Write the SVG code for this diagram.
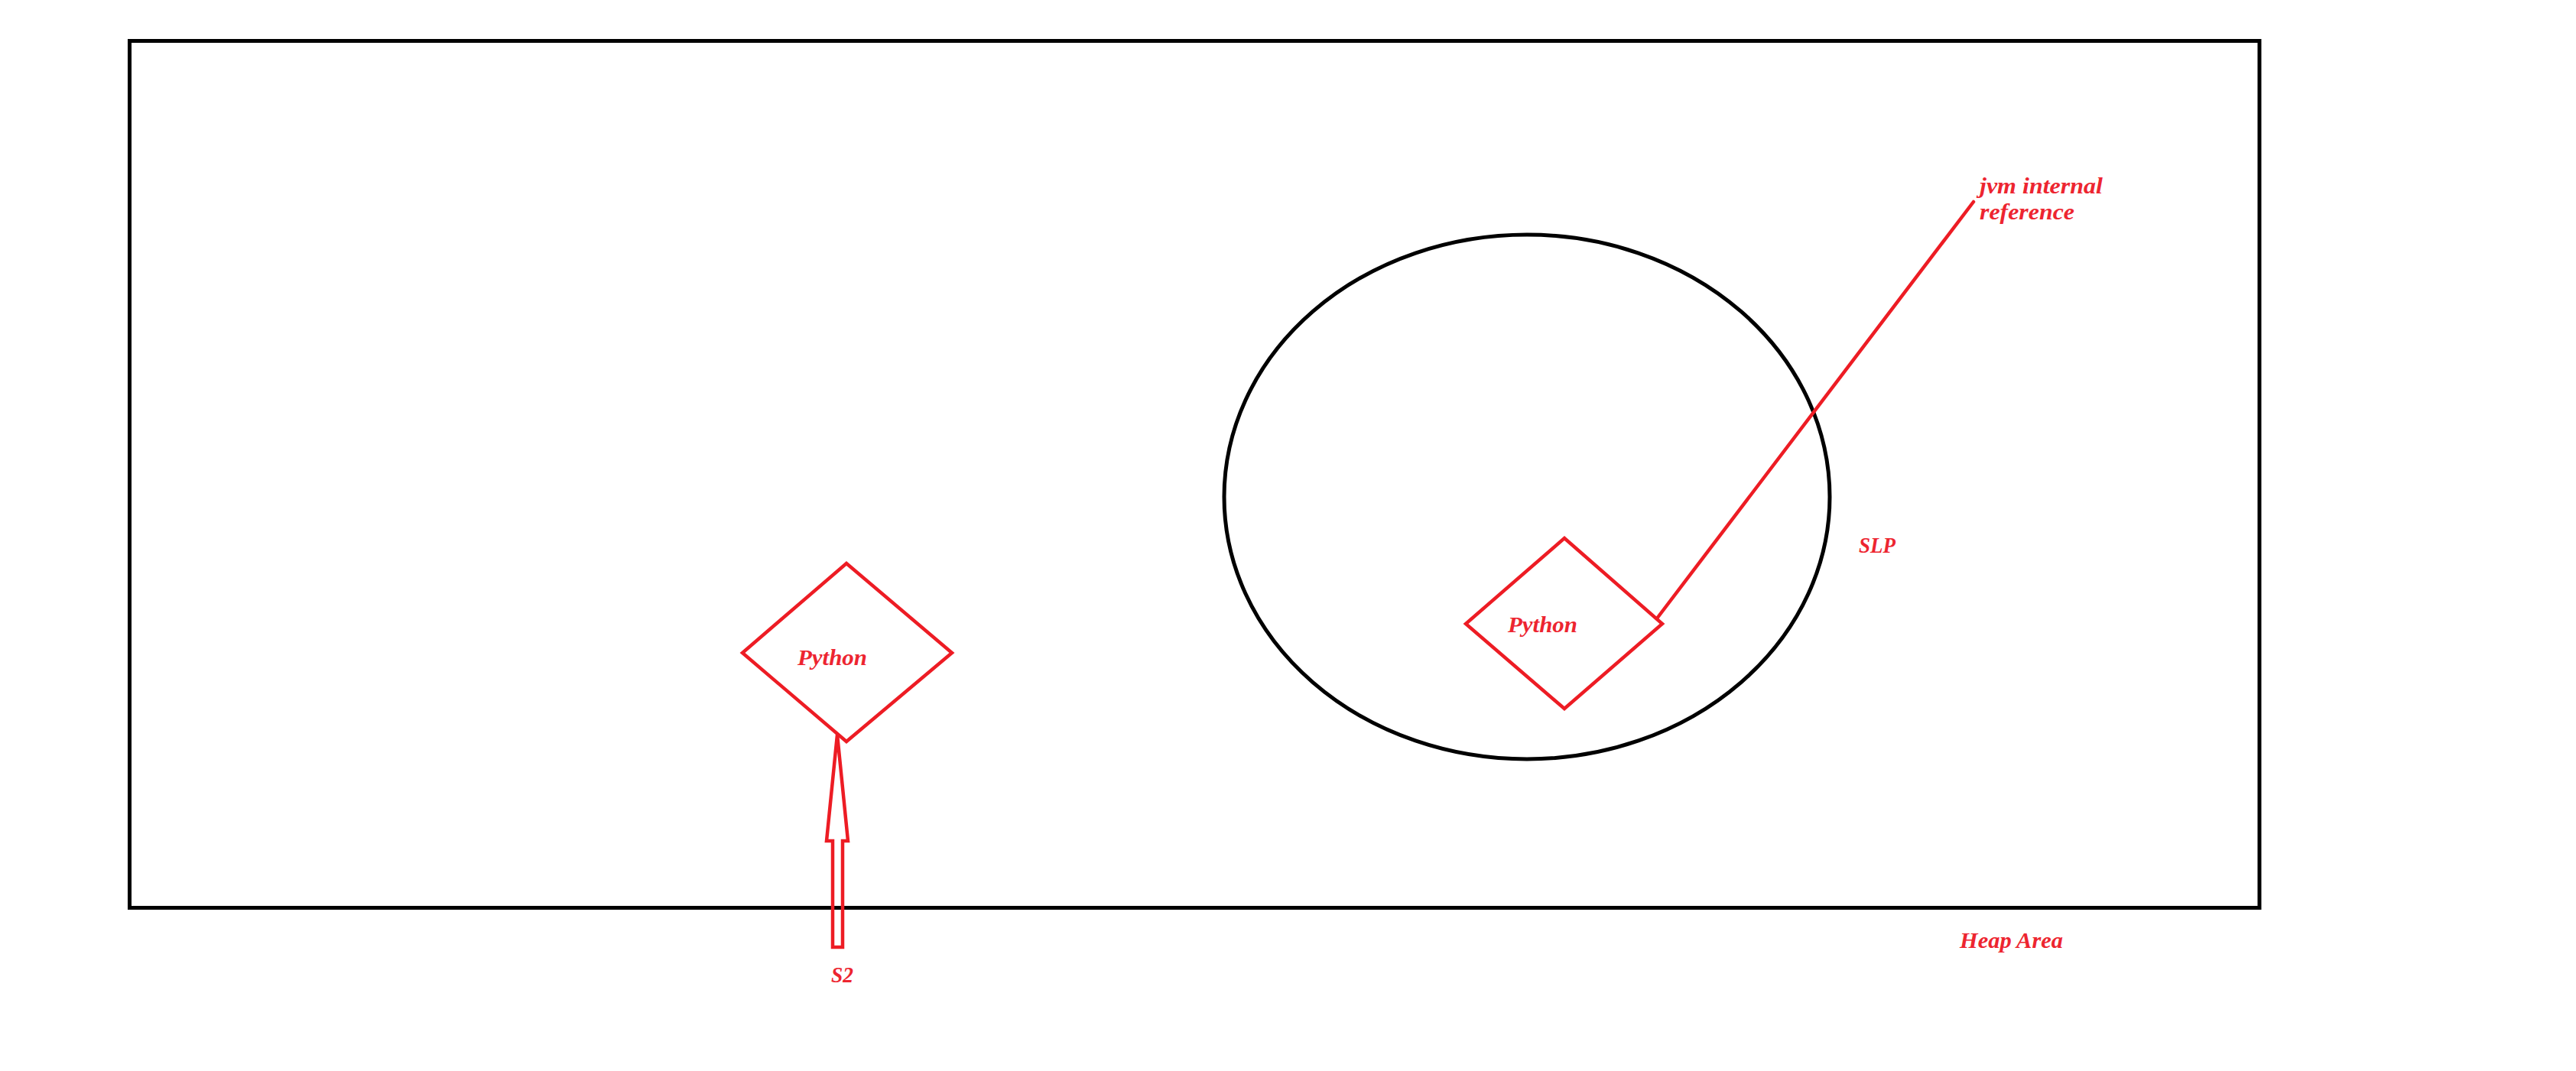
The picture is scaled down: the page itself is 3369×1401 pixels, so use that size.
<svg xmlns="http://www.w3.org/2000/svg" width="3369" height="1401" viewBox="0 0 3369 1401">
  <style>
    .blk { fill: none; stroke: #000000; stroke-width: 5; }
    .red { fill: none; stroke: #ED1C24; stroke-width: 4.5; stroke-linejoin: miter; }
    .lbl { font-family: "Liberation Serif", "Times New Roman", serif; font-style: italic; font-weight: bold; font-size: 29px; fill: #ED2530; }
  </style>
  <rect width="3369" height="1401" fill="#ffffff"/>
  <g id="heap-area">
    <rect class="blk" x="169.5" y="53.5" width="2785.5" height="1134"/>
    <text class="lbl" x="2563" y="1240" textLength="135" lengthAdjust="spacingAndGlyphs">Heap Area</text>
  </g>
  <g id="slp">
    <ellipse class="blk" cx="1997" cy="650" rx="396" ry="343" stroke-width="4.5"/>
    <text class="lbl" x="2431" y="723" textLength="48" lengthAdjust="spacingAndGlyphs">SLP</text>
  </g>
  <g id="python-s2">
    <polygon class="red" points="1107,737 1245,854 1107,970 971,854"/>
    <text class="lbl" x="1043" y="870" textLength="91" lengthAdjust="spacingAndGlyphs">Python</text>
  </g>
  <g id="python-slp">
    <polygon class="red" points="2046,704 2174,816 2046,927 1917,816"/>
    <text class="lbl" x="1972" y="827" textLength="91" lengthAdjust="spacingAndGlyphs">Python</text>
  </g>
  <g id="s2">
    <text class="lbl" x="1087" y="1285" textLength="29" lengthAdjust="spacingAndGlyphs">S2</text>
  </g>
  <g id="jvm-ref">
    <text class="lbl" x="2589" y="253" textLength="161" lengthAdjust="spacingAndGlyphs">jvm internal</text>
    <text class="lbl" x="2589" y="287" textLength="124" lengthAdjust="spacingAndGlyphs">reference</text>
  </g>
  <g id="connectors">
    <line class="red" x1="2167" y1="809" x2="2581" y2="264" stroke-linecap="round"/>
    <polygon class="red" stroke-width="4" points="1095,961 1109,1100 1102,1100 1102,1239 1089,1239 1089,1100 1081,1100"/>
  </g>
</svg>
